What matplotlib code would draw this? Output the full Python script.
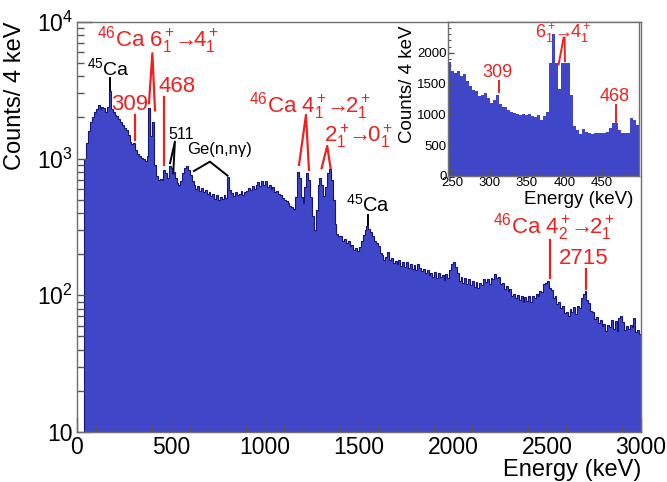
import numpy as np
import matplotlib
matplotlib.use('Agg')
from matplotlib import pyplot as plt
from matplotlib.ticker import FixedLocator, FixedFormatter, MultipleLocator, LogLocator, NullFormatter

# counts / 4 keV, every 10 keV (0 - 3000 keV)
spectrum = [
    0, 0, 0, 0, 1000, 1300, 1600, 1850, 2000, 2200,
    2300, 2450, 2300, 2400, 2350, 2200, 2400, 3100, 2300, 2200,
    2100, 2050, 1950, 1850, 1750, 1680, 1620, 1480, 1330, 1280,
    1300, 1150, 1080, 1040, 1010, 990, 960, 1050, 2350, 1450,
    1850, 900, 740, 700, 710, 700, 820, 780, 720, 880,
    850, 800, 720, 660, 640, 690, 780, 860, 880, 820,
    760, 690, 640, 600, 625, 580, 610, 565, 590, 550,
    565, 530, 555, 510, 540, 495, 525, 505, 540, 515,
    730, 590, 560, 530, 565, 540, 550, 575, 540, 565,
    575, 605, 585, 625, 600, 645, 675, 630, 690, 645,
    690, 615, 645, 595, 615, 570, 580, 550, 545, 515,
    500, 490, 470, 450, 440, 430, 520, 800, 720, 520,
    470, 620, 790, 700, 520, 380, 300, 420, 640, 720,
    640, 530, 620, 780, 840, 700, 500, 330, 280, 270,
    270, 250, 258, 240, 248, 228, 232, 215, 222, 212,
    225, 250, 275, 300, 320, 305, 290, 270, 250, 240,
    228, 205, 198, 182, 192, 208, 182, 186, 172, 178,
    168, 182, 164, 174, 160, 176, 158, 170, 155, 166,
    154, 168, 158, 150, 156, 146, 152, 140, 146, 136,
    147, 134, 145, 136, 140, 130, 143, 134, 152, 170,
    175, 160, 145, 128, 135, 124, 134, 120, 131, 118,
    128, 115, 126, 113, 124, 119, 131, 125, 132, 121,
    133, 131, 143, 134, 136, 121, 124, 112, 117, 107,
    111, 99, 102, 95, 101, 92, 99, 89, 97, 91,
    99, 90, 98, 95, 103, 98, 108, 106, 120, 123,
    128, 114, 110, 96, 98, 86, 90, 81, 83, 74,
    76, 70, 79, 75, 82, 73, 83, 81, 95, 102,
    108, 92, 88, 77, 76, 67, 69, 63, 66, 60,
    62, 55, 61, 59, 66, 57, 65, 55, 68, 70,
    64, 56, 60, 57, 61, 59, 68, 54, 56, 52,
]

# inset: 4 keV bins from 244 to 500 keV
inset_counts = [
    1848, 1700, 1673, 1700, 1619, 1662, 1537, 1455, 1400, 1373,
    1302, 1319, 1346, 1264, 1183, 1237, 1319, 1172, 1117, 1128,
    1074, 1046, 1019, 1008, 992, 1008, 986, 1008, 975, 965,
    992, 910, 975, 1046, 1837, 2300, 1837, 1417, 1837, 1837,
    1837, 1319, 812, 747, 681, 758, 720, 703, 681, 703,
    692, 703, 692, 720, 774, 867, 867, 747, 703, 692,
    692, 937, 910, 828,
]

main_ticks = [10, 100, 1000, 10000]
main_ticklabels = ['10', '$10^2$', '$10^3$', '$10^4$']

plt.rcParams['font.family'] = ['Liberation Sans', 'DejaVu Sans']
plt.rcParams['mathtext.fontset'] = 'custom'
plt.rcParams['mathtext.rm'] = 'Liberation Sans'
plt.rcParams['mathtext.it'] = 'Liberation Sans:italic'
plt.rcParams['mathtext.bf'] = 'Liberation Sans:bold'

fill_col = '#3f47c8'
edge_col = '#15157a'
red = '#f02020'
frame_col = '#707070'

fig = plt.figure(figsize=(6.67, 4.82), dpi=100)
ax = fig.add_axes([0.1154, 0.1037, 0.8456, 0.851])

edges = np.arange(0, 3001, 10)
vals = np.clip(np.array(spectrum, dtype=float), 1, None)
ax.stairs(vals, edges, fill=True, baseline=1, color=fill_col, lw=0)
ax.stairs(vals, edges, baseline=None, color=edge_col, lw=0.8)

ax.set_yscale('log')
ax.set_xlim(0, 3000)
ax.set_ylim(10, 1e4)
ax.yaxis.set_major_locator(FixedLocator(main_ticks))
ax.yaxis.set_major_formatter(FixedFormatter(main_ticklabels))
ax.yaxis.set_minor_locator(LogLocator(subs=range(2, 10)))
ax.yaxis.set_minor_formatter(NullFormatter())
ax.xaxis.set_major_locator(MultipleLocator(500))
ax.xaxis.set_minor_locator(MultipleLocator(100))
ax.tick_params(which='both', direction='in', top=False, right=False, colors='#555555', labelcolor='black')
ax.tick_params(which='major', length=11, width=1, labelsize=16.5)
ax.tick_params(which='minor', length=5, width=1)
ax.tick_params(axis='x', pad=3)
ax.tick_params(axis='y', pad=3)
for sp in ax.spines.values():
    sp.set_color(frame_col)
    sp.set_linewidth(1)

ax.set_xlabel('Energy (keV)', fontsize=17, loc='right', labelpad=0)
ax.set_ylabel('Counts/ 4 keV', fontsize=17, loc='top')
ax.yaxis.set_label_coords(-0.09, 1.0)

# arrow between the two level labels, pulled in on both sides
ARR = r'$\!$→$\!$'

# annotations
def lab(x, y, s, c, fs):
    ax.text(x, y, s, color=c, fontsize=fs, ha='center', va='center')

lab(428, 7380, r'$^{46}$Ca 6$_1^+$' + ARR + r'4$_1^+$', red, 16)
ax.plot([383, 401, 415], [2540, 5890, 2250], color=red, lw=1.6)
lab(279, 2470, '309', red, 16)
ax.plot([309, 309], [2085, 1368], color=red, lw=1.6)
lab(530, 3360, '468', red, 16)
ax.plot([465, 465], [2840, 898], color=red, lw=1.6)
lab(169, 4560, '$^{45}$Ca', 'black', 14)
ax.plot([175, 175], [3890, 3180], color='black', lw=1.4)
lab(553, 1490, '511', 'black', 11.5)
ax.plot([495, 521, 512], [925, 1330, 780], color='black', lw=1.4)
lab(761, 1156, 'Ge(n,nγ)', 'black', 12)
ax.plot([622, 707, 801], [811, 949, 750], color='black', lw=1.4)
lab(1239, 2430, r'$^{46}$Ca 4$_1^+$' + ARR + r'2$_1^+$', red, 16)
ax.plot([1181, 1218, 1234], [898, 2085, 826], color=red, lw=1.6)
lab(1495, 1462, r'2$_1^+$' + ARR + r'0$_1^+$', red, 16)
ax.plot([1301, 1331, 1349], [849, 1236, 849], color=red, lw=1.6)
lab(1548, 458, '$^{45}$Ca', 'black', 14.5)
ax.plot([1549, 1549], [386, 327], color='black', lw=1.4)
lab(2535, 313, r'$^{46}$Ca 4$_2^+$' + ARR + r'2$_1^+$', red, 16)
ax.plot([2516, 2516], [254, 134], color=red, lw=1.6)
lab(2694, 186, '2715', red, 16)
ax.plot([2706, 2706], [156, 111], color=red, lw=1.6)

# inset
ax2 = fig.add_axes([447.7 / 667, 1 - 176 / 482, 191.3 / 667, 154 / 482])
edges2 = np.arange(244, 501, 4)
ax2.stairs(inset_counts, edges2, fill=True, baseline=0, color=fill_col, lw=0)
ax2.set_xlim(244, 500)
ax2.set_ylim(0, 2500)
ax2.xaxis.set_major_locator(FixedLocator([250, 300, 350, 400, 450]))
ax2.xaxis.set_minor_locator(MultipleLocator(10))
ax2.yaxis.set_major_locator(FixedLocator([0, 500, 1000, 1500, 2000]))
ax2.yaxis.set_minor_locator(MultipleLocator(100))
ax2.tick_params(which='both', direction='in', top=False, right=False, colors='#555555', labelcolor='black')
ax2.tick_params(which='major', length=4.5, width=1, labelsize=9.5)
ax2.tick_params(which='minor', length=2.5, width=0.8)
ax2.tick_params(axis='x', pad=1)
ax2.tick_params(axis='y', pad=0.5)
for sp in ax2.spines.values():
    sp.set_color(frame_col)
    sp.set_linewidth(1)
ax2.set_xlabel('Energy (keV)', fontsize=13.5, loc='right')
ax2.xaxis.set_label_coords(0.97, -0.095)
ax2.set_ylabel('Counts/ 4 keV', fontsize=13.5, loc='top')
ax2.yaxis.set_label_coords(-0.165, 0.98)

ax2.text(398, 2316, r'6$_1^+$' + ARR + r'4$_1^+$', color=red, fontsize=13, ha='center', va='center')
ax2.plot([392.4, 399.1], [1809, 2245], color=red, lw=1.4)
ax2.plot([400.4, 400.9], [2245, 1864], color=red, lw=1.4)
ax2.text(311, 1673, '309', color=red, fontsize=13, ha='center', va='center')
ax2.plot([312.5, 312.5], [1548, 1357], color=red, lw=1.4)
ax2.text(467, 1286, '468', color=red, fontsize=13, ha='center', va='center')
ax2.plot([469.6, 469.6], [1155, 883], color=red, lw=1.4)

fig.savefig('out.png', dpi=100)
